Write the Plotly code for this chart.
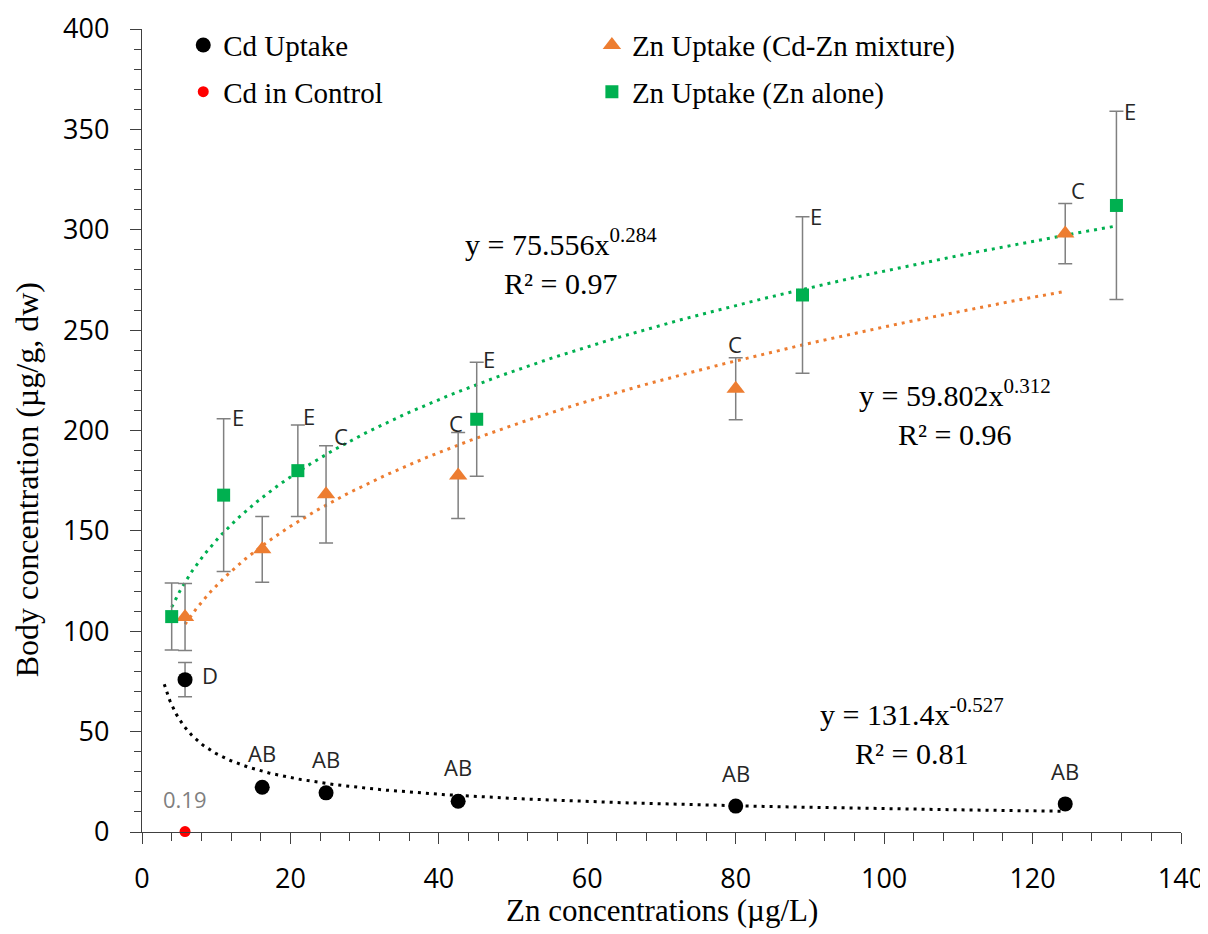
import numpy as np
import plotly.graph_objects as go

# ---------------- data ----------------
mix_x = [5.8, 16.2, 24.8, 42.6, 80.0, 124.4]          # Cd-Zn mixture exposures
cd_y = [75.9, 22.3, 19.5, 15.3, 12.9, 14.0]
cd_err = [8.5, 0, 0, 0, 0, 0]
cd_letters = ["D", "AB", "AB", "AB", "AB", "AB"]

ctrl_x = [5.8]
ctrl_y = [0.19]
ctrl_text = ["0.19"]

mix_y = [107.1, 140.8, 168.2, 177.6, 220.8, 298.1]
mix_err = [16.7, 16.4, 24.2, 21.4, 15.4, 15.0]
mix_letters = ["", "", "C", "C", "C", "C"]

zn_x = [4.0, 11.0, 21.0, 45.1, 89.0, 131.3]
zn_y = [107.3, 167.8, 180.0, 205.6, 267.5, 312.1]
zn_err = [16.7, 38.0, 22.8, 28.4, 39.0, 46.9]
zn_letters = ["", "E", "E", "E", "E", "E"]

# power-law fits shown on the chart: [coefficient, exponent, R2]
zn_fit = [75.556, 0.284, 0.97]
mix_fit = [59.802, 0.312, 0.96]
cd_fit = [131.4, -0.527, 0.81]
cd_fit_start = 3.0   # Excel trendline extended backward

# ---------------- styles ----------------
BLACK = "#000000"
RED = "#FF0000"
ORANGE = "#ED7D31"
GREEN = "#00B050"
AXIS = "#404040"
ERR = dict(type="data", color="#808080", thickness=1.5, width=7, visible=True)
SERIF = "Liberation Serif"
SANS = "Open Sans"

# label offsets in px (dx, up) – relative to marker (Cd) or to error-bar top (Zn)
cd_off = [(25, 5), (0, 34), (0, 34), (0, 34), (0, 33), (0, 33)]
mix_off = [None, None, (15, 10), (-2, 10), (-1, 14), (13, 13)]
zn_off = [None, (14, 2), (11, 9), (12, 3), (13, 1), (14, 0)]


def fit_curve(fit, x0, x1):
    xs = np.geomspace(x0, x1, 200)
    return xs, fit[0] * xs ** fit[1]


fig = go.Figure()

# trend lines
for fit, x0, x1, col in [
    (zn_fit, min(zn_x), max(zn_x), GREEN),
    (mix_fit, min(mix_x), max(mix_x), ORANGE),
    (cd_fit, cd_fit_start, max(mix_x), BLACK),
]:
    xs, ys = fit_curve(fit, x0, x1)
    fig.add_trace(go.Scatter(x=xs, y=ys, mode="lines", showlegend=False,
                             hoverinfo="skip",
                             line=dict(color=col, width=3, dash="3px,5px")))

# data series
fig.add_trace(go.Scatter(
    x=mix_x, y=cd_y, mode="markers", name="Cd Uptake", legend="legend",
    legendgroup="a", marker=dict(symbol="circle", size=15, color=BLACK),
    error_y=dict(array=cd_err, **ERR)))
fig.add_trace(go.Scatter(
    x=ctrl_x, y=ctrl_y, mode="markers", name="Cd in Control", legend="legend",
    legendgroup="b", cliponaxis=False,
    marker=dict(symbol="circle", size=11, color=RED)))
fig.add_trace(go.Scatter(
    x=mix_x, y=mix_y, mode="markers", name="Zn Uptake (Cd-Zn mixture)",
    legend="legend2", legendgroup="c",
    marker=dict(symbol="triangle-up", size=16, color=ORANGE),
    error_y=dict(array=mix_err, **ERR)))
fig.add_trace(go.Scatter(
    x=zn_x, y=zn_y, mode="markers", name="Zn Uptake (Zn alone)",
    legend="legend2", legendgroup="d",
    marker=dict(symbol="square", size=13, color=GREEN),
    error_y=dict(array=zn_err, **ERR)))

annotations = []
LETTER_FONT = dict(family=SANS, size=22, color="#262626")
for x, y, t, off in zip(mix_x, cd_y, cd_letters, cd_off):
    annotations.append(dict(x=x, y=y, text=t, showarrow=False, font=LETTER_FONT,
                            xshift=off[0], yshift=off[1]))
for x, y, e, t, off in zip(mix_x, mix_y, mix_err, mix_letters, mix_off):
    if t:
        annotations.append(dict(x=x, y=y + e, text=t, showarrow=False,
                                font=LETTER_FONT, xshift=off[0], yshift=off[1]))
for x, y, e, t, off in zip(zn_x, zn_y, zn_err, zn_letters, zn_off):
    if t:
        annotations.append(dict(x=x, y=y + e, text=t, showarrow=False,
                                font=LETTER_FONT, xshift=off[0], yshift=off[1]))
annotations.append(dict(x=ctrl_x[0], y=ctrl_y[0], text=ctrl_text[0], showarrow=False,
                        font=dict(family=SANS, size=22, color="#7F7F7F"), yshift=33))


def eq_text(fit):
    return (f"y = {fit[0]}x<sup>{fit[1]}</sup><br>"
            f"R² = {fit[2]}")


EQ_FONT = dict(family=SERIF, size=30, color=BLACK)
for fit, ex, ey in [(zn_fit, 56.4, 284.0), (mix_fit, 109.5, 209.2), (cd_fit, 103.8, 50.2)]:
    annotations.append(dict(x=ex, y=ey, text=eq_text(fit), showarrow=False,
                            font=EQ_FONT, align="center"))

# axis titles
TITLE_FONT = dict(family=SERIF, size=31, color=BLACK)
annotations.append(dict(xref="paper", yref="paper", x=0.5, y=0, yshift=-78,
                        xanchor="center", yanchor="middle",
                        text="Zn concentrations (µg/L)", showarrow=False,
                        font=TITLE_FONT))
annotations.append(dict(xref="paper", yref="paper", x=0, xshift=-115, y=0.438,
                        xanchor="center", yanchor="middle",
                        text="Body concentration (µg/g, dw)", showarrow=False,
                        textangle=-90, font=dict(family=SERIF, size=32, color=BLACK)))

axis_common = dict(
    showline=True, linecolor=AXIS, linewidth=1.3, showgrid=False, zeroline=False,
    ticks="outside", ticklen=11, tickwidth=1.3, tickcolor=AXIS, automargin=False,
    tickfont=dict(family=SANS, size=27, color=BLACK),
)
legend_common = dict(
    xanchor="left", yanchor="top", bgcolor="rgba(0,0,0,0)",
    font=dict(family=SERIF, size=29, color=BLACK),
    traceorder="grouped", tracegroupgap=6, itemwidth=30,
)

# the page body adds an 8px offset, so the figure is 8px smaller on each side
fig.update_layout(
    width=1200, height=926,
    margin=dict(l=134, r=27, t=21, b=102, autoexpand=False),
    paper_bgcolor="white", plot_bgcolor="white",
    xaxis=dict(range=[0, 140], tick0=0, dtick=20, ticklabelstandoff=11,
               minor=dict(dtick=4, ticks="outside", ticklen=8, tickwidth=1.3,
                          tickcolor=AXIS, showgrid=False),
               **axis_common),
    yaxis=dict(range=[0, 400], tick0=0, dtick=50, ticklabelstandoff=15,
               minor=dict(dtick=10, ticks="outside", ticklen=7, tickwidth=1.3,
                          tickcolor=AXIS, showgrid=False),
               **axis_common),
    legend=dict(x=0.0397, y=1.0116, **legend_common),
    legend2=dict(x=0.433, y=1.0116, **legend_common),
    annotations=annotations,
    showlegend=True,
)

fig.write_html("out.html")
